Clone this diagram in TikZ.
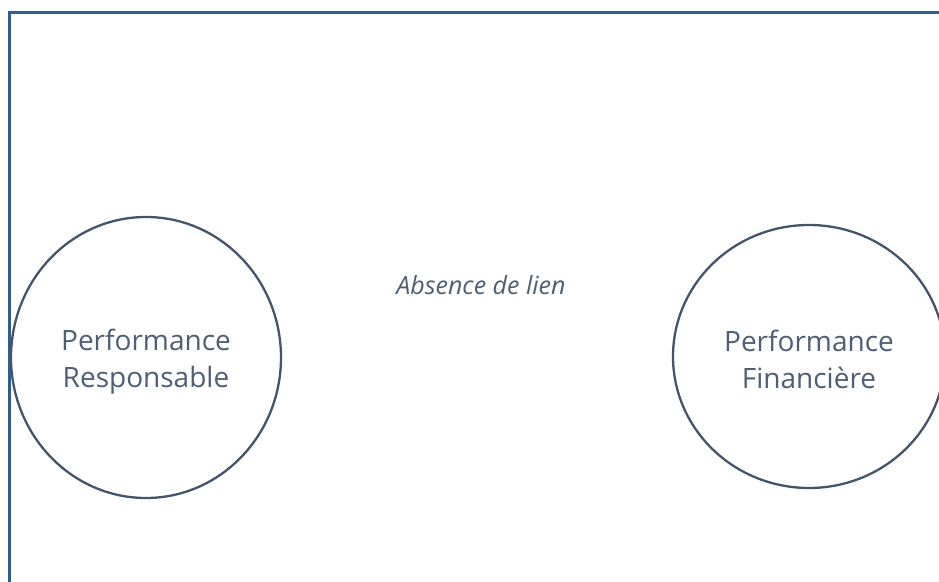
\documentclass[tikz,border=0pt]{standalone}
\usepackage{fontspec}
\setmainfont{Open Sans}
\usetikzlibrary{shapes.geometric}
\definecolor{frameblue}{HTML}{2F5C94}
\definecolor{slate}{HTML}{44546A}
\definecolor{txtslate}{HTML}{4E5E74}
\tikzset{
  perf/.style={ellipse, draw=slate, line width=2.3pt, inner sep=0pt, align=center,
    text=txtslate, font=\fontsize{28}{37}\selectfont},
}
\begin{document}
\begin{tikzpicture}[x=1pt,y=1pt]
\useasboundingbox (0,0) rectangle (939,581);
\begin{scope}
\clip (0,0) rectangle (939,581);
\draw[frameblue, line width=2.2pt] (9.5,-5) -- (9.5,568.5) -- (945,568.5);
\node[perf, minimum width=270pt, minimum height=281pt] (resp) at (146,223.5) {};
\node[perf, minimum width=272pt, minimum height=263pt] (fin) at (809,224.5) {};
\end{scope}
\node[align=center, text=txtslate, font=\fontsize{28}{37}\selectfont] (resplbl) at ([yshift=-4pt]resp.center) {Performance\\Responsable};
\node[align=center, text=txtslate, font=\fontsize{28}{37}\selectfont] (finlbl) at ([yshift=-3pt]fin.center) {Performance\\Financière};
\node[text=txtslate, font=\itshape\fontsize{25}{30}\selectfont] (lien) at (481,296) {Absence de lien};
\end{tikzpicture}
\end{document}
